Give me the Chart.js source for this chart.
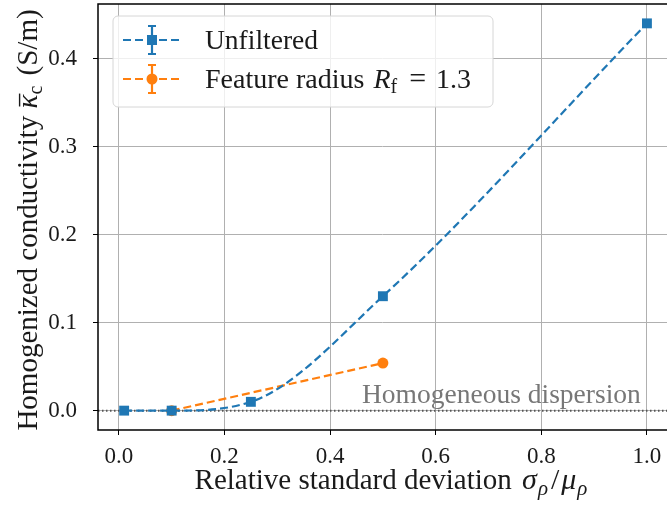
<!DOCTYPE html>
<html>
<head>
<meta charset="utf-8">
<script src="https://cdn.jsdelivr.net/npm/chart.js@4.4.1/dist/chart.umd.min.js"></script>
<style>
  html, body { margin: 0; padding: 0; background: #fff; }
  #wrap { width: 667px; height: 508px; }
</style>
</head>
<body>
<div id="wrap"><canvas id="myChart" width="667" height="508"></canvas></div>
<script>
// data
var unfilteredX = [0.01, 0.1, 0.25, 0.5, 1.0];
var unfilteredY = [0.0, 0.0, 0.01, 0.13, 0.44];
var featureX = [0.1, 0.5];
var featureY = [0.0, 0.054];
var xTicks = [0.0, 0.2, 0.4, 0.6, 0.8, 1.0];
var yTicks = [0.0, 0.1, 0.2, 0.3, 0.4];

var blue = '#1f77b4';
var orange = '#ff7f0e';
var serif = '"Liberation Serif", "DejaVu Serif", serif';

function pts(xs, ys) {
	var out = [];
	for (var i = 0; i < xs.length; i++) out.push({ x: xs[i], y: ys[i] });
	return out;
}

// draws a list of text runs one after another, returns the width
function runs(ctx, x, y, list, measureOnly) {
	var cx = x;
	list.forEach(function (r) {
		cx += r.pad || 0;
		ctx.font = (r.italic ? 'italic ' : '') + r.size + 'px ' + serif;
		var w = ctx.measureText(r.t).width;
		if (!measureOnly) {
			ctx.fillText(r.t, cx, y + (r.dy || 0));
			if (r.bar) {
				ctx.save();
				ctx.strokeStyle = ctx.fillStyle;
				ctx.lineWidth = 1.4;
				ctx.beginPath();
				ctx.moveTo(cx + 2, y - r.size * 0.6);
				ctx.lineTo(cx + w + 1, y - r.size * 0.6);
				ctx.stroke();
				ctx.restore();
			}
		}
		cx += w;
	});
	return cx - x;
}

var yTitle = [
	{ t: 'Homogenized conductivity ', size: 29 },
	{ t: '\u03ba', size: 29, italic: true, bar: true },
	{ t: 'c', size: 20, dy: 5 },
	{ t: ' (S/m)', size: 29, pad: 3 }
];
var xTitle = [
	{ t: 'Relative standard deviation ', size: 29 },
	{ t: '\u03c3', size: 30, italic: true, pad: 3 },
	{ t: '\u03c1', size: 21, italic: true, dy: 6, pad: 1 },
	{ t: '/', size: 30, pad: 3 },
	{ t: '\u03bc', size: 30, italic: true, pad: 2 },
	{ t: '\u03c1', size: 21, italic: true, dy: 6, pad: 1 }
];
var legendItems = [
	{ color: blue, marker: 'rect', text: [{ t: 'Unfiltered', size: 27.5 }] },
	{ color: orange, marker: 'circle', text: [
		{ t: 'Feature radius', size: 28 },
		{ t: 'R', size: 28, italic: true, pad: 9 },
		{ t: 'f', size: 20, dy: 5 },
		{ t: '=', size: 30, pad: 12 },
		{ t: '1.3', size: 28, pad: 10 }
	] }
];

var overlay = {
	id: 'overlay',
	beforeDatasetsDraw: function (chart) {
		var ctx = chart.ctx, a = chart.chartArea;
		var y0 = chart.scales.y.getPixelForValue(0);
		ctx.save();
		ctx.fillStyle = '#777';
		ctx.textAlign = 'left';
		ctx.textBaseline = 'alphabetic';
		runs(ctx, 362, 403, [{ t: 'Homogeneous dispersion', size: 27.5 }]);
		ctx.strokeStyle = '#555';
		ctx.lineWidth = 2;
		ctx.setLineDash([1.5, 2.5]);
		ctx.beginPath();
		ctx.moveTo(a.left, y0);
		ctx.lineTo(a.right, y0);
		ctx.stroke();
		ctx.restore();
	},
	afterDraw: function (chart) {
		var ctx = chart.ctx, a = chart.chartArea;
		ctx.save();
		// spines
		ctx.strokeStyle = '#000';
		ctx.lineWidth = 1.5;
		ctx.beginPath();
		ctx.moveTo(a.right, a.top);
		ctx.lineTo(a.left, a.top);
		ctx.lineTo(a.left, a.bottom);
		ctx.lineTo(a.right, a.bottom);
		ctx.stroke();

		// legend box
		var lx = 113, ly = 16, lw = 380, lh = 91;
		ctx.fillStyle = 'rgba(255,255,255,0.8)';
		ctx.strokeStyle = '#d6d6d6';
		ctx.lineWidth = 1;
		ctx.beginPath();
		ctx.roundRect(lx, ly, lw, lh, 5);
		ctx.fill();
		ctx.stroke();
		legendItems.forEach(function (it, i) {
			var cy = 40 + i * 39;
			ctx.strokeStyle = it.color;
			ctx.fillStyle = it.color;
			ctx.lineWidth = 2.2;
			ctx.setLineDash([8, 4]);
			ctx.beginPath();
			ctx.moveTo(123, cy);
			ctx.lineTo(181, cy);
			ctx.stroke();
			ctx.setLineDash([]);
			ctx.beginPath();
			ctx.moveTo(152, cy - 14);
			ctx.lineTo(152, cy + 14);
			ctx.moveTo(148, cy - 14);
			ctx.lineTo(156, cy - 14);
			ctx.moveTo(148, cy + 14);
			ctx.lineTo(156, cy + 14);
			ctx.stroke();
			if (it.marker === 'rect') ctx.fillRect(147, cy - 5, 10, 10);
			else { ctx.beginPath(); ctx.arc(152, cy, 5.5, 0, Math.PI * 2); ctx.fill(); }
			ctx.fillStyle = '#1a1a1a';
			ctx.textBaseline = 'alphabetic';
			runs(ctx, 205, cy + 9, it.text);
		});

		// axis titles
		ctx.fillStyle = '#1a1a1a';
		var wx = runs(ctx, 0, 0, xTitle, true);
		runs(ctx, 391 - wx / 2, 489, xTitle);
		ctx.translate(37, 220);
		ctx.rotate(-Math.PI / 2);
		var wy = runs(ctx, 0, 0, yTitle, true);
		runs(ctx, -wy / 2, 0, yTitle);
		ctx.restore();
	}
};

new Chart(document.getElementById('myChart'), {
	type: 'line',
	data: {
		datasets: [{
			label: 'Unfiltered',
			data: pts(unfilteredX, unfilteredY),
			borderColor: blue,
			backgroundColor: blue,
			borderWidth: 2.2,
			borderDash: [8, 4],
			cubicInterpolationMode: 'monotone',
			pointStyle: 'rect',
			pointRadius: 7,
			pointBorderWidth: 0,
			fill: false
		}, {
			label: 'Feature radius',
			data: pts(featureX, featureY),
			borderColor: orange,
			backgroundColor: orange,
			borderWidth: 2.2,
			borderDash: [8, 4],
			pointStyle: 'circle',
			pointRadius: 5.5,
			pointBorderWidth: 0,
			fill: false
		}]
	},
	options: {
		responsive: false,
		animation: false,
		layout: { autoPadding: false, padding: { top: 4, right: 0, left: 0, bottom: 0 } },
		plugins: { legend: { display: false }, tooltip: { enabled: false } },
		scales: {
			x: {
				type: 'linear',
				min: -0.0395,
				max: 1.038,
				afterBuildTicks: function (s) { s.ticks = xTicks.map(function (v) { return { value: v }; }); },
				afterFit: function (s) { s.height = 78; s.paddingLeft = 0; s.paddingRight = 0; },
				grid: { color: '#b0b0b0', lineWidth: 1, tickColor: '#000', tickLength: 5, drawOnChartArea: true },
				border: { display: false },
				ticks: {
					color: '#1a1a1a',
					font: { family: serif, size: 23 },
					padding: 8,
					maxRotation: 0,
					callback: function (v) { return v.toFixed(1); }
				}
			},
			y: {
				type: 'linear',
				min: -0.022,
				max: 0.462,
				afterBuildTicks: function (s) { s.ticks = yTicks.map(function (v) { return { value: v }; }); },
				afterFit: function (s) { s.width = 98; s.paddingTop = 0; s.paddingBottom = 0; },
				grid: { color: '#b0b0b0', lineWidth: 1, tickColor: '#000', tickLength: 5 },
				border: { display: false },
				ticks: {
					color: '#1a1a1a',
					font: { family: serif, size: 23 },
					padding: 16,
					callback: function (v) { return v.toFixed(1); }
				}
			}
		}
	},
	plugins: [overlay]
});
</script>
</body>
</html>
